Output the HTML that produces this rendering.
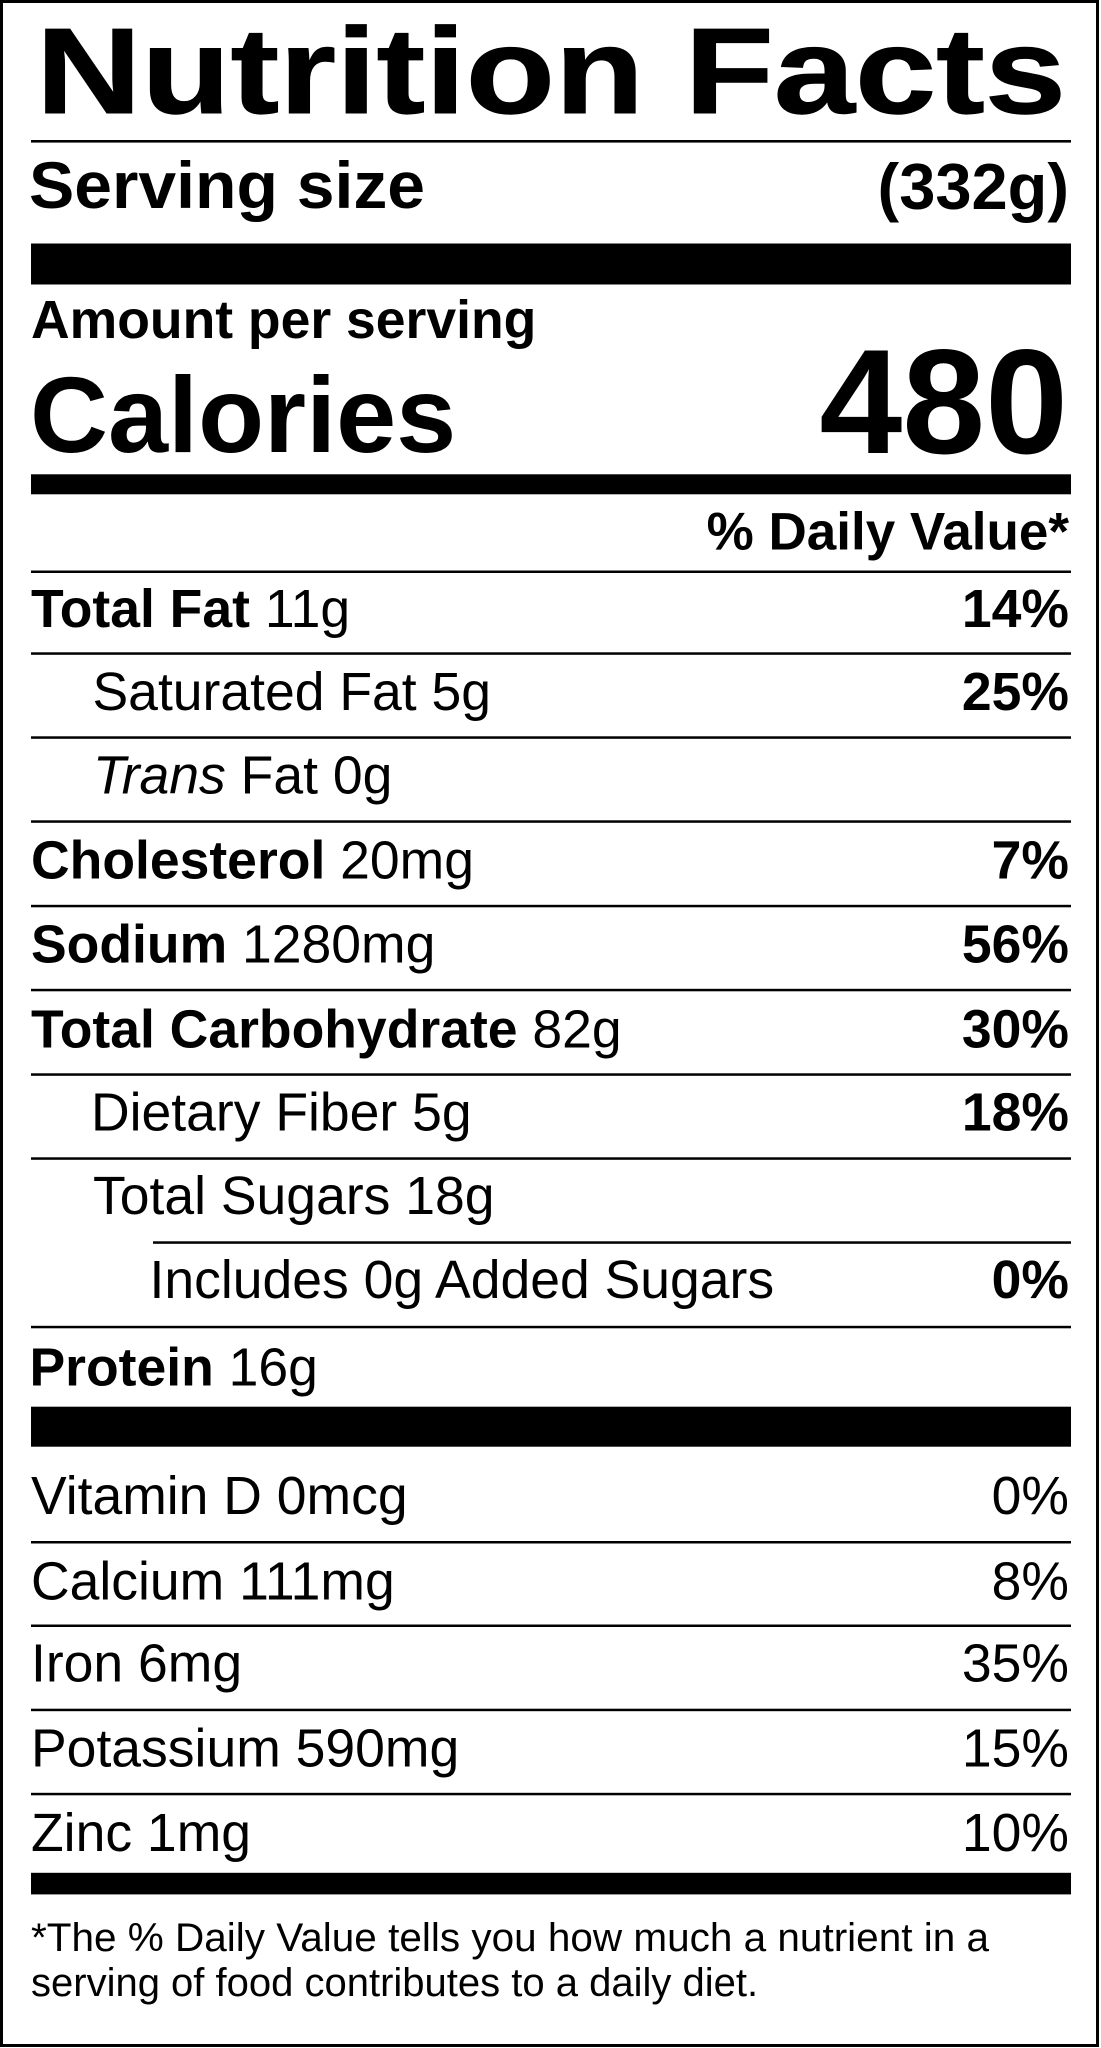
<!DOCTYPE html>
<html>
<head>
<meta charset="utf-8">
<style>
  html, body { margin: 0; padding: 0; background: #fff; }
  svg { display: block; }
  text { font-family: "Liberation Sans", Arial, Helvetica, sans-serif; fill: #000; }
  .b { font-weight: bold; }
</style>
</head>
<body>
<svg width="1101" height="2048" viewBox="0 0 1101 2048" xmlns="http://www.w3.org/2000/svg">
  <rect x="0" y="0" width="1101" height="2048" fill="#fff"/>
  <!-- outer border -->
  <rect x="1.5" y="1.5" width="1096" height="2044" fill="none" stroke="#000" stroke-width="3"/>

  <!-- Title -->
  <text x="36" y="113" font-size="122" class="b" textLength="1030" lengthAdjust="spacingAndGlyphs" stroke="#000" stroke-width="1">Nutrition Facts</text>
  <rect x="31" y="140" width="1040" height="2.6" fill="#000"/>

  <!-- Serving size -->
  <text x="29" y="208" font-size="66" class="b" textLength="396" lengthAdjust="spacingAndGlyphs">Serving size</text>
  <text x="1069" y="209" font-size="65" class="b" text-anchor="end">(332g)</text>
  <rect x="31" y="243.5" width="1040" height="41" fill="#000"/>

  <!-- Calories -->
  <text x="31" y="338" font-size="53.5" class="b">Amount per serving</text>
  <text x="30" y="452" font-size="108" class="b">Calories</text>
  <text x="1068" y="453" font-size="149" class="b" text-anchor="end">480</text>
  <rect x="31" y="474.3" width="1040" height="20" fill="#000"/>

  <text x="1069" y="549.5" font-size="53" class="b" text-anchor="end">% Daily Value*</text>
  <rect x="31" y="570.5" width="1040" height="2.5" fill="#000"/>

  <!-- Total Fat -->
  <text x="31" y="627" font-size="53.5"><tspan class="b">Total Fat </tspan>11g</text>
  <text x="1069" y="627" font-size="53.5" class="b" text-anchor="end">14%</text>
  <rect x="31" y="652.3" width="1040" height="2.5" fill="#000"/>

  <!-- Saturated Fat -->
  <text x="92.5" y="710" font-size="53.5">Saturated Fat 5g</text>
  <text x="1069" y="710" font-size="53.5" class="b" text-anchor="end">25%</text>
  <rect x="31" y="736.3" width="1040" height="2.5" fill="#000"/>

  <!-- Trans Fat -->
  <text x="93" y="793.5" font-size="53.5"><tspan font-style="italic">Trans</tspan> Fat 0g</text>
  <rect x="31" y="820.3" width="1040" height="2.5" fill="#000"/>

  <!-- Cholesterol -->
  <text x="31" y="878.5" font-size="53.5"><tspan class="b">Cholesterol </tspan>20mg</text>
  <text x="1069" y="878.5" font-size="53.5" class="b" text-anchor="end">7%</text>
  <rect x="31" y="904.8" width="1040" height="2.5" fill="#000"/>

  <!-- Sodium -->
  <text x="31" y="962.7" font-size="53.5"><tspan class="b">Sodium </tspan>1280mg</text>
  <text x="1069" y="962.7" font-size="53.5" class="b" text-anchor="end">56%</text>
  <rect x="31" y="988.8" width="1040" height="2.5" fill="#000"/>

  <!-- Total Carbohydrate -->
  <text x="31" y="1047.3" font-size="53.5"><tspan class="b">Total Carbohydrate </tspan>82g</text>
  <text x="1069" y="1047.3" font-size="53.5" class="b" text-anchor="end">30%</text>
  <rect x="31" y="1073.3" width="1040" height="2.5" fill="#000"/>

  <!-- Dietary Fiber -->
  <text x="91" y="1130.7" font-size="53.5">Dietary Fiber 5g</text>
  <text x="1069" y="1130.7" font-size="53.5" class="b" text-anchor="end">18%</text>
  <rect x="31" y="1157.3" width="1040" height="2.5" fill="#000"/>

  <!-- Total Sugars -->
  <text x="93" y="1214" font-size="53.5">Total Sugars 18g</text>
  <rect x="153" y="1241.3" width="918" height="2.5" fill="#000"/>

  <!-- Added Sugars -->
  <text x="149.5" y="1298" font-size="53.5">Includes 0g Added Sugars</text>
  <text x="1069" y="1298" font-size="53.5" class="b" text-anchor="end">0%</text>
  <rect x="31" y="1325.8" width="1040" height="2.5" fill="#000"/>

  <!-- Protein -->
  <text x="29.5" y="1385.5" font-size="53.5"><tspan class="b">Protein </tspan>16g</text>
  <rect x="31" y="1406.7" width="1040" height="40" fill="#000"/>

  <!-- Vitamins / minerals -->
  <text x="31" y="1514" font-size="53.5">Vitamin D 0mcg</text>
  <text x="1069" y="1514" font-size="53.5" text-anchor="end">0%</text>
  <rect x="31" y="1541" width="1040" height="2.5" fill="#000"/>

  <text x="31" y="1599.5" font-size="53.5">Calcium 111mg</text>
  <text x="1069" y="1599.5" font-size="53.5" text-anchor="end">8%</text>
  <rect x="31" y="1624.5" width="1040" height="2.5" fill="#000"/>

  <text x="31" y="1681.7" font-size="53.5">Iron 6mg</text>
  <text x="1069" y="1681.7" font-size="53.5" text-anchor="end">35%</text>
  <rect x="31" y="1708.7" width="1040" height="2.5" fill="#000"/>

  <text x="31" y="1766.7" font-size="53.5">Potassium 590mg</text>
  <text x="1069" y="1766.7" font-size="53.5" text-anchor="end">15%</text>
  <rect x="31" y="1792.8" width="1040" height="2.5" fill="#000"/>

  <text x="31" y="1851" font-size="53.5">Zinc 1mg</text>
  <text x="1069" y="1851" font-size="53.5" text-anchor="end">10%</text>
  <rect x="31" y="1872.8" width="1040" height="21.6" fill="#000"/>

  <!-- Footnote -->
  <text x="31" y="1951" font-size="40" textLength="958" lengthAdjust="spacingAndGlyphs">*The % Daily Value tells you how much a nutrient in a</text>
  <text x="31" y="1996" font-size="40">serving of food contributes to a daily diet.</text>
</svg>
</body>
</html>
